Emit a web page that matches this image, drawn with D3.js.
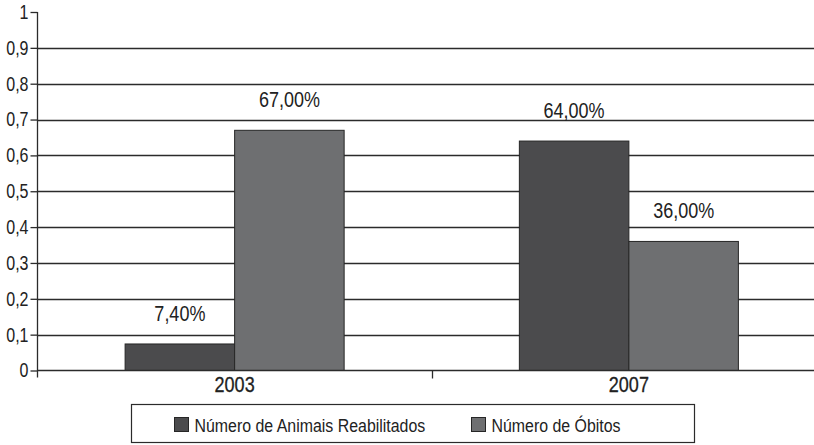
<!DOCTYPE html>
<html>
<head>
<meta charset="utf-8">
<script src="https://cdn.jsdelivr.net/npm/d3@7/dist/d3.min.js"></script>
<style>
  html, body { margin: 0; padding: 0; background: #fff; }
  svg { display: block; }
  text { font-family: "Liberation Sans", Arial, sans-serif; fill: #222; }
</style>
</head>
<body>
<svg id="chart" width="814" height="445"></svg>
<script>
// Anos e séries
const years = ["2003", "2007"];
const seriesNames = ["Número de Animais Reabilitados", "Número de Óbitos"];
const reabilitados = [0.074, 0.64];
const obitos = [0.67, 0.36];
const yTicks = [0, 0.1, 0.2, 0.3, 0.4, 0.5, 0.6, 0.7, 0.8, 0.9, 1];

const colors = ["#4b4b4d", "#6e6f71"];
const svg = d3.select("#chart");
const W = 814;

const rows = years.map((y, i) => ({ year: y, values: [reabilitados[i], obitos[i]] }));

const y = d3.scaleLinear().domain([0, 1]).range([370.5, 12]);
const x0 = d3.scaleBand().domain(years).range([37.5, 826]).paddingInner(0).paddingOuter(0);
const x1 = d3.scaleBand().domain(seriesNames).range([0, x0.bandwidth()]).paddingInner(0).paddingOuter(0.8);

const fmtTick = v => d3.format(".1f")(v).replace(".", ",").replace(/^0,0$/, "0").replace(/^1,0$/, "1");
const fmtPct = v => d3.format(".2f")(v * 100).replace(".", ",") + "%";

// texto em estilo condensado: desloca para (x, y) e estreita na horizontal
function condensed(sel, sx) {
  sel.each(function () {
    const t = d3.select(this);
    const x = +t.attr("x") || 0;
    const yy = +t.attr("y") || 0;
    t.attr("x", 0).attr("y", 0)
      .attr("transform", `translate(${x},${yy}) scale(${sx},1)`);
  });
}

// grade horizontal
svg.append("g")
  .selectAll("line")
  .data(yTicks.filter(t => t > 0 && t < 1))
  .join("line")
  .attr("x1", 37.5).attr("x2", W)
  .attr("y1", d => Math.round(y(d)) + 0.5).attr("y2", d => Math.round(y(d)) + 0.5)
  .attr("stroke", "#2b2b2b").attr("stroke-width", 1.3);

// eixo Y
const yAxis = d3.axisLeft(y).tickValues(yTicks).tickSize(7).tickPadding(2).tickFormat(fmtTick);
const gy = svg.append("g").attr("transform", "translate(37.5,0)").call(yAxis);
gy.select(".domain").remove();
gy.selectAll(".tick line").attr("stroke", "#2b2b2b").attr("stroke-width", 1.3);
gy.selectAll(".tick text").style("font-size", "20px").attr("fill", "#222").call(condensed, 0.8);
svg.append("line")
  .attr("x1", 37.5).attr("x2", 37.5)
  .attr("y1", y(1)).attr("y2", y(0) + 7)
  .attr("stroke", "#2b2b2b").attr("stroke-width", 1.3);

// barras
const groups = svg.append("g").selectAll("g")
  .data(rows).join("g")
  .attr("transform", d => `translate(${x0(d.year)},0)`);

groups.selectAll("rect")
  .data(d => d.values.map((v, i) => ({ key: seriesNames[i], v, i })))
  .join("rect")
  .attr("x", d => x1(d.key))
  .attr("y", d => y(d.v))
  .attr("width", x1.bandwidth())
  .attr("height", d => y(0) - y(d.v))
  .attr("fill", d => colors[d.i])
  .attr("stroke", "#262626").attr("stroke-width", 1);

groups.selectAll("text.val")
  .data(d => d.values.map((v, i) => ({ key: seriesNames[i], v })))
  .join("text")
  .attr("class", "val")
  .attr("x", d => x1(d.key) + x1.bandwidth() / 2)
  .attr("y", d => y(d.v) - 23)
  .attr("text-anchor", "middle")
  .style("font-size", "22.5px")
  .attr("fill", "#262626")
  .text(d => fmtPct(d.v))
  .call(condensed, 0.8);

// eixo X
svg.append("line")
  .attr("x1", 37.5).attr("x2", W)
  .attr("y1", y(0)).attr("y2", y(0))
  .attr("stroke", "#2b2b2b").attr("stroke-width", 1.3);
svg.append("g").selectAll("line")
  .data(years.slice(1))
  .join("line")
  .attr("x1", d => Math.round(x0(d)) + 0.5).attr("x2", d => Math.round(x0(d)) + 0.5)
  .attr("y1", y(0)).attr("y2", y(0) + 8)
  .attr("stroke", "#2b2b2b").attr("stroke-width", 1.3);
svg.append("g").selectAll("text")
  .data(years)
  .join("text")
  .attr("x", d => x0(d) + x0.bandwidth() / 2)
  .attr("y", y(0) + 21.5)
  .attr("text-anchor", "middle")
  .style("font-size", "22px")
  .attr("fill", "#1e1e1e")
  .attr("stroke", "#1e1e1e").attr("stroke-width", 0.3)
  .text(d => d)
  .call(condensed, 0.82);

// legenda
const leg = svg.append("g");
leg.append("rect")
  .attr("x", 131.5).attr("y", 404.5).attr("width", 563).attr("height", 38)
  .attr("fill", "#fff").attr("stroke", "#2b2b2b").attr("stroke-width", 1.2);
const legX = [174.5, 471.5];
seriesNames.forEach((name, i) => {
  leg.append("rect")
    .attr("x", legX[i]).attr("y", 417.5).attr("width", 14).attr("height", 14)
    .attr("fill", colors[i]).attr("stroke", "#262626").attr("stroke-width", 1);
  leg.append("text")
    .attr("x", legX[i] + 20).attr("y", 431.5)
    .style("font-size", "18.5px")
    .attr("fill", "#333")
    .text(name)
    .call(condensed, 0.86);
});
</script>
</body>
</html>
